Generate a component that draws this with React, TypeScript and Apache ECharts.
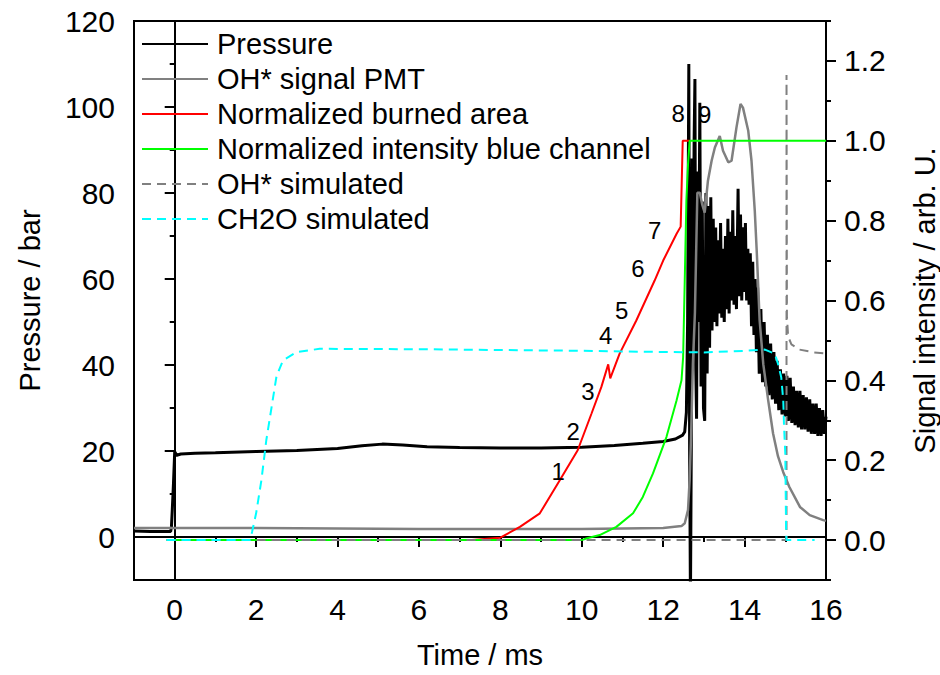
import React, { useEffect, useRef } from 'react';
import * as echarts from 'echarts';

const FONT = '"Liberation Sans", Arial, Helvetica, sans-serif';

// Axis ticks
const xMajor = [0, 2, 4, 6, 8, 10, 12, 14, 16];
const xMinor = [-1, 1, 3, 5, 7, 9, 11, 13, 15];
const leftMajor = [0, 20, 40, 60, 80, 100, 120];
const leftMinor = [-10, 10, 30, 50, 70, 90, 110];
const rightMajor = [0, 0.2, 0.4, 0.6, 0.8, 1.0, 1.2];
const rightMinor = [-0.1, 0.1, 0.3, 0.5, 0.7, 0.9, 1.1, 1.3];

const seriesNames = [
  'Pressure',
  'OH* signal PMT',
  'Normalized burned area',
  'Normalized intensity blue channel',
  'OH* simulated',
  'CH2O simulated',
];

// Pressure [time ms, bar]
const pressure: [number, number][] = [
  [-1, 1.4], [-0.6, 1.3], [-0.1, 1.3], [-0.08, 2.4], [-0.06, 6.2], [-0.03, 12.5], [0, 19.8],
  [0.05, 19.0], [0.15, 19.3], [0.5, 19.5], [1, 19.6], [2, 19.9], [3, 20.1], [4, 20.6],
  [4.6, 21.2], [5.1, 21.6], [5.6, 21.4], [6.2, 21.0], [7, 20.8], [8, 20.7], [9, 20.7],
  [10, 20.9], [10.8, 21.3], [11.5, 21.8], [12, 22.2], [12.3, 22.8], [12.48, 23.7], [12.53, 24.5],
  [12.57, 29], [12.6, 50], [12.63, 110], [12.65, 20], [12.67, -15], [12.69, 20], [12.71, 88],
  [12.73, 45], [12.76, 92], [12.78, 106.5], [12.8, 40], [12.82, 27.5], [12.85, 85], [12.87, 50],
  [12.9, 101], [12.93, 35], [12.96, 78], [12.99, 30], [13.02, 27], [13.05, 80], [13.08, 38],
  [13.11, 77], [13.14, 44], [13.17, 79], [13.2, 48], [13.23, 74], [13.26, 50], [13.29, 72],
  [13.32, 49], [13.35, 69], [13.38, 52], [13.41, 73], [13.44, 51], [13.47, 67], [13.5, 50],
  [13.53, 70], [13.56, 53], [13.59, 74], [13.62, 52], [13.65, 71], [13.68, 55], [13.71, 76],
  [13.74, 54], [13.77, 70], [13.8, 53], [13.84, 81], [13.87, 56], [13.9, 75], [13.93, 55],
  [13.96, 72], [13.99, 57], [14.02, 73], [14.05, 55], [14.08, 67], [14.11, 54], [14.14, 66],
  [14.17, 49], [14.2, 64], [14.23, 47], [14.26, 60], [14.29, 43], [14.32, 58], [14.36, 38],
  [14.4, 53], [14.44, 36], [14.48, 50], [14.52, 35], [14.56, 47], [14.6, 33], [14.64, 45],
  [14.68, 32], [14.72, 43], [14.76, 31], [14.8, 41], [14.84, 29.5], [14.88, 39], [14.92, 28.5],
  [14.96, 38], [15.0, 28], [15.04, 37.5], [15.08, 27], [15.12, 37], [15.16, 26.5], [15.2, 35],
  [15.24, 26], [15.28, 34], [15.32, 25.5], [15.36, 34], [15.4, 25], [15.44, 33], [15.48, 25],
  [15.52, 32.5], [15.56, 24.5], [15.6, 32], [15.64, 24], [15.68, 31], [15.72, 24], [15.76, 31],
  [15.8, 23.5], [15.84, 30], [15.88, 23.5], [15.92, 29.5], [15.96, 24], [16.0, 28],
];

// OH* PMT signal [time ms, arb. U.]
const ohPmt: [number, number][] = [
  [-1, 0.03], [2, 0.03], [6, 0.028], [10, 0.028], [12, 0.03], [12.45, 0.035], [12.53, 0.042],
  [12.61, 0.075], [12.65, 0.15], [12.69, 0.275], [12.73, 0.44], [12.78, 0.57], [12.84, 0.87],
  [12.9, 0.87], [12.96, 0.84], [13.02, 0.82], [13.1, 0.9], [13.19, 0.95], [13.27, 0.983],
  [13.39, 1.012], [13.47, 0.975], [13.6, 0.946], [13.68, 0.95], [13.8, 1.033], [13.9, 1.092],
  [13.96, 1.083], [14.09, 1.025], [14.17, 0.95], [14.25, 0.825], [14.3, 0.72], [14.37, 0.55],
  [14.46, 0.44], [14.58, 0.35], [14.7, 0.267], [14.82, 0.21], [14.95, 0.17], [15.1, 0.133],
  [15.36, 0.083], [15.6, 0.0625], [15.93, 0.05], [16, 0.048],
];

// Normalized burned area
const burnedArea: [number, number][] = [
  [7.3, 0], [8.0, 0.006], [8.48, 0.033], [8.97, 0.067], [9.46, 0.15], [9.9, 0.225],
  [10.24, 0.317], [10.48, 0.383], [10.62, 0.43], [10.65, 0.44], [10.7, 0.405], [10.93, 0.467],
  [11.34, 0.55], [11.79, 0.65], [12.0, 0.7], [12.33, 0.767], [12.43, 0.785], [12.48, 1.0],
  [12.65, 1.0],
];

// Normalized intensity blue channel
const blueIntensity: [number, number][] = [
  [-0.2, 0], [10.0, 0], [10.11, 0.004], [10.44, 0.0125], [10.85, 0.033], [11.26, 0.067],
  [11.5, 0.108], [11.75, 0.167], [12.08, 0.258], [12.33, 0.35], [12.45, 0.4], [12.49, 0.458],
  [12.53, 0.65], [12.57, 0.85], [12.61, 0.94], [12.65, 1.0], [16, 1.0],
];

// OH* simulated
const ohSim: [number, number][] = [
  [-0.2, 0], [15.03, 0], [15.03, 1.165], [15.04, 0.56], [15.07, 0.51], [15.15, 0.49],
  [15.35, 0.477], [15.7, 0.47], [16, 0.4675],
];

// CH2O simulated
const ch2oSim: [number, number][] = [
  [-0.2, 0], [1.85, 0], [1.9, 0.02], [2.0, 0.067], [2.13, 0.15], [2.25, 0.25], [2.38, 0.333],
  [2.5, 0.41], [2.66, 0.45], [3.0, 0.471], [3.56, 0.479], [6, 0.478], [10, 0.474], [12, 0.471],
  [13, 0.47], [14, 0.474], [14.5, 0.477], [14.74, 0.467], [14.82, 0.442], [14.9, 0.408],
  [14.95, 0.35], [14.97, 0.283], [15.0, 0.217], [15.02, 0.02], [15.03, 0], [15.72, 0],
];

// Numbered annotations along the burned-area curve
const annotLabels = ['1', '2', '3', '4', '5', '6', '7', '8', '9'];
const annotTimes = [9.42, 9.79, 10.15, 10.59, 10.98, 11.38, 11.79, 12.37, 13.02];
const annotValues = [0.171, 0.271, 0.371, 0.5125, 0.575, 0.679, 0.775, 1.068, 1.067];

const colors = ['#000000', '#808080', '#ff0000', '#00ff00', '#808080', '#00ffff'];

export default function App() {
  const ref = useRef<HTMLDivElement>(null);
  useEffect(() => {
    document.body.style.margin = '0';
    document.body.style.overflow = 'hidden';
    document.documentElement.style.overflow = 'hidden';
    if (!ref.current) return;
    const chart = echarts.init(ref.current, undefined, { renderer: 'svg', width: 940, height: 675 });
    const tickStyle = { fontSize: 30, color: '#000', fontFamily: FONT };
    const nameStyle = { fontSize: 29, color: '#000', fontFamily: FONT };
    const axisLine = { show: true, lineStyle: { color: '#000', width: 2 } };
    const dataSets = [pressure, ohPmt, burnedArea, blueIntensity, ohSim, ch2oSim];
    const yIdx = [0, 2, 2, 2, 2, 2];
    const widths = [3, 2.5, 2, 2, 2, 2];
    const dashed = [false, false, false, false, true, true];
    const option: any = {
      animation: false,
      backgroundColor: '#fff',
      grid: {
        left: 134, right: 114, top: 21, bottom: 95,
        outerBoundsMode: 'none', containLabel: false,
        show: true, borderColor: '#000', borderWidth: 2, backgroundColor: 'transparent',
      },
      legend: {
        data: seriesNames,
        orient: 'vertical',
        left: 141,
        top: 28,
        padding: 0,
        itemWidth: 66,
        itemHeight: 14,
        itemGap: 3,
        itemStyle: { color: 'rgba(0,0,0,0)', borderWidth: 0, opacity: 0 },
        textStyle: { fontSize: 29, lineHeight: 32, color: '#000', fontFamily: FONT, padding: [0, 0, 0, 4] },
      },
      xAxis: [
        {
          type: 'value', min: -1, max: 16, position: 'bottom',
          name: 'Time / ms', nameLocation: 'middle', nameGap: 60, nameTextStyle: nameStyle,
          axisLine,
          axisTick: { show: true, customValues: xMajor, length: 10, lineStyle: { color: '#000', width: 2 } },
          axisLabel: { customValues: xMajor, margin: 14, ...tickStyle },
          splitLine: { show: false },
        },
        {
          type: 'value', min: -1, max: 16, position: 'bottom',
          axisLine: { show: false },
          axisTick: { show: true, customValues: xMinor, length: 5, lineStyle: { color: '#000', width: 2 } },
          axisLabel: { show: false },
          splitLine: { show: false },
        },
      ],
      yAxis: [
        {
          type: 'value', min: -10, max: 120, position: 'left',
          name: 'Pressure / bar', nameLocation: 'middle', nameGap: 90, nameTextStyle: nameStyle,
          axisLine,
          axisTick: { show: true, customValues: leftMajor, length: 10, lineStyle: { color: '#000', width: 2 } },
          axisLabel: { customValues: leftMajor, margin: 19, ...tickStyle },
          splitLine: { show: false },
        },
        {
          type: 'value', min: -10, max: 120, position: 'left',
          axisLine: { show: false },
          axisTick: { show: true, customValues: leftMinor, length: 5, lineStyle: { color: '#000', width: 2 } },
          axisLabel: { show: false },
          splitLine: { show: false },
        },
        {
          type: 'value', min: -0.1, max: 1.3, position: 'right',
          name: 'Signal intensity / arb. U.', nameLocation: 'middle', nameGap: 84, nameTextStyle: nameStyle,
          axisLine,
          axisTick: { show: true, customValues: rightMajor, length: 10, lineStyle: { color: '#000', width: 2 } },
          axisLabel: { customValues: rightMajor, margin: 18, formatter: (v: number) => v.toFixed(1), ...tickStyle },
          splitLine: { show: false },
        },
        {
          type: 'value', min: -0.1, max: 1.3, position: 'right',
          axisLine: { show: false },
          axisTick: { show: true, customValues: rightMinor, length: 5, lineStyle: { color: '#000', width: 2 } },
          axisLabel: { show: false },
          splitLine: { show: false },
        },
      ],
      series: [
        ...seriesNames.map((name, i) => ({
          type: 'line',
          name,
          data: dataSets[i],
          xAxisIndex: 0,
          yAxisIndex: yIdx[i],
          symbol: 'none',
          showSymbol: false,
          silent: true,
          itemStyle: { color: colors[i] },
          lineStyle: { color: colors[i], width: widths[i], type: dashed[i] ? [9, 6] : 'solid' },
        })),
        {
          type: 'scatter',
          name: 'annotations',
          xAxisIndex: 0,
          yAxisIndex: 2,
          symbolSize: 2,
          silent: true,
          z: 5,
          itemStyle: { color: 'rgba(0,0,0,0)' },
          data: annotLabels.map((l, i) => ({ name: l, value: [annotTimes[i], annotValues[i]] })),
          label: {
            show: true, position: 'inside', formatter: (p: any) => p.name,
            fontSize: 24, color: '#000', opacity: 1, fontFamily: FONT, textBorderWidth: 0,
          },
        },
      ],
    };
    chart.setOption(option);
    return () => chart.dispose();
  }, []);
  return (
    <div
      ref={ref}
      style={{ position: 'fixed', left: 0, top: 0, width: 940, height: 675, background: '#fff' }}
    />
  );
}
